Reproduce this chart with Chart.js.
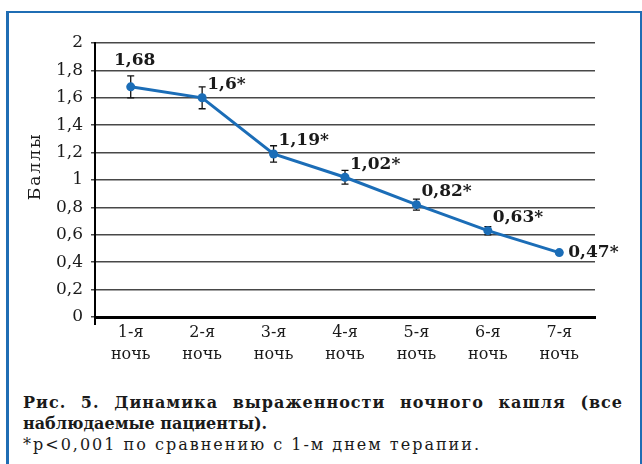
<!DOCTYPE html>
<html lang="ru">
<head>
<meta charset="utf-8">
<title>Динамика выраженности ночного кашля</title>
<script src="https://cdn.jsdelivr.net/npm/chart.js@4.4.1/dist/chart.umd.min.js"></script>
<style>
  html, body { margin: 0; padding: 0; background: #fff; }
  #wrap { position: relative; width: 642px; height: 464px; overflow: hidden; background: #fff; }
  #frame {
    position: absolute; left: 6px; top: 11px; width: 636px; height: 480px;
    border: 2px solid #1f6db4; border-left-width: 3px; border-bottom: none;
    box-sizing: border-box;
  }
  #chart-box { position: absolute; left: 0; top: 0; width: 642px; height: 372px; }
  #caption {
    position: absolute; left: 23px; top: 392px; width: 600px;
    font-family: 'DejaVu Serif', serif; font-size: 16px; line-height: 21px; color: #1a1a1a;
  }
  #caption .b { font-weight: bold; }
  #caption .j { display: block; text-align: justify; text-align-last: justify; letter-spacing: 1px; }
  #caption .note { letter-spacing: 2px; }
</style>
</head>
<body>
<div id="wrap">
  <div id="frame"></div>
  <div id="chart-box"><canvas id="chart"></canvas></div>
  <div id="caption">
    <span class="b j">Рис. 5. Динамика выраженности ночного кашля (все</span>
    <span class="b">наблюдаемые пациенты).</span><br>
    <span class="note">*p&lt;0,001 по сравнению с 1-м днем терапии.</span>
  </div>
</div>
<script>
// Nights of observation (two-line axis labels)
const nights = [
  ['1-я', 'ночь'], ['2-я', 'ночь'], ['3-я', 'ночь'], ['4-я', 'ночь'],
  ['5-я', 'ночь'], ['6-я', 'ночь'], ['7-я', 'ночь']
];
// Mean night-cough score per night
const scores = [1.68, 1.6, 1.19, 1.02, 0.82, 0.63, 0.47];
// Half-width of the error bar for each night
const errors = [0.08, 0.08, 0.06, 0.05, 0.04, 0.03, 0.01];
// p<0.001 versus the first night
const significant = [false, true, true, true, true, true, true];
// Value axis
const yMin = 0;
const yMax = 2;
const yStep = 0.2;
const yTitle = 'Баллы';

const SERIF = "'DejaVu Serif', serif";
const BLUE = '#1b6db7';
const INK = '#1a1a1a';

const fmt = v => String(parseFloat(v.toFixed(2))).replace('.', ',');

// Whiskers around every point, drawn beneath the line and markers
const errorBars = {
  id: 'errorBars',
  beforeDatasetsDraw(chart) {
    const { ctx } = chart;
    const y = chart.scales.y;
    const meta = chart.getDatasetMeta(0);
    ctx.save();
    ctx.strokeStyle = '#111';
    ctx.lineWidth = 1.3;
    meta.data.forEach((pt, i) => {
      const yHi = y.getPixelForValue(scores[i] + errors[i]);
      const yLo = y.getPixelForValue(scores[i] - errors[i]);
      const cap = 3.5;
      ctx.beginPath();
      ctx.moveTo(pt.x, yHi); ctx.lineTo(pt.x, yLo);
      ctx.moveTo(pt.x - cap, yHi); ctx.lineTo(pt.x + cap, yHi);
      ctx.moveTo(pt.x - cap, yLo); ctx.lineTo(pt.x + cap, yLo);
      ctx.stroke();
    });
    ctx.restore();
  }
};

// Bold value labels next to the points
const valueLabels = {
  id: 'valueLabels',
  afterDatasetsDraw(chart) {
    const { ctx } = chart;
    const meta = chart.getDatasetMeta(0);
    const last = meta.data.length - 1;
    ctx.save();
    ctx.font = 'bold 17px ' + SERIF;
    ctx.fillStyle = INK;
    ctx.textBaseline = 'middle';
    meta.data.forEach((pt, i) => {
      const text = fmt(scores[i]) + (significant[i] ? '*' : '');
      if (i === 0) {
        ctx.textAlign = 'center';
        ctx.fillText(text, pt.x + 4, pt.y - 26);
      } else if (i === last) {
        ctx.textAlign = 'left';
        ctx.fillText(text, pt.x + 9, pt.y);
      } else {
        ctx.textAlign = 'left';
        ctx.fillText(text, pt.x + 5, pt.y - 13);
      }
    });
    ctx.restore();
  }
};

// Rotated title of the value axis
const axisTitle = {
  id: 'axisTitle',
  afterDraw(chart) {
    const { ctx, chartArea } = chart;
    ctx.save();
    ctx.font = '17px ' + SERIF;
    if ('letterSpacing' in ctx) ctx.letterSpacing = '2px';
    ctx.fillStyle = INK;
    ctx.textAlign = 'center';
    ctx.textBaseline = 'middle';
    ctx.translate(36, chartArea.top + (chartArea.bottom - chartArea.top) * 0.45);
    ctx.rotate(-Math.PI / 2);
    ctx.fillText(yTitle, 0, 0);
    ctx.restore();
  }
};

new Chart(document.getElementById('chart'), {
  type: 'line',
  data: {
    labels: nights,
    datasets: [{
      data: scores,
      borderColor: BLUE,
      backgroundColor: BLUE,
      borderWidth: 3,
      pointRadius: 4.5,
      pointHoverRadius: 4.5,
      pointBorderWidth: 0,
      tension: 0,
      clip: false
    }]
  },
  options: {
    responsive: true,
    maintainAspectRatio: false,
    animation: false,
    events: [],
    layout: { padding: { top: 43, right: 47, bottom: 0, left: 0 } },
    plugins: { legend: { display: false }, tooltip: { enabled: false } },
    scales: {
      x: {
        type: 'category',
        offset: true,
        afterFit(scale) { scale.height = 55; },
        grid: {
          offset: true,
          drawOnChartArea: false,
          drawTicks: true,
          tickLength: 8,
          lineWidth: 2,
          color: ctx => (ctx.index === 0 ? '#000' : 'rgba(0,0,0,0)')
        },
        border: { display: true, color: '#000', width: 3 },
        ticks: {
          color: INK,
          font: { family: SERIF, size: 16, lineHeight: 1.375 },
          padding: -3,
          maxRotation: 0,
          autoSkip: false
        }
      },
      y: {
        min: yMin,
        max: yMax,
        afterFit(scale) { scale.width = 95; },
        grid: {
          color: '#484848',
          lineWidth: 1.5,
          drawTicks: true,
          tickLength: 4
        },
        border: { display: true, color: '#000', width: 2 },
        ticks: {
          stepSize: yStep,
          color: INK,
          padding: 8,
          font: { family: SERIF, size: 17 },
          callback: v => fmt(v)
        }
      }
    }
  },
  plugins: [errorBars, valueLabels, axisTitle]
});
</script>
</body>
</html>
